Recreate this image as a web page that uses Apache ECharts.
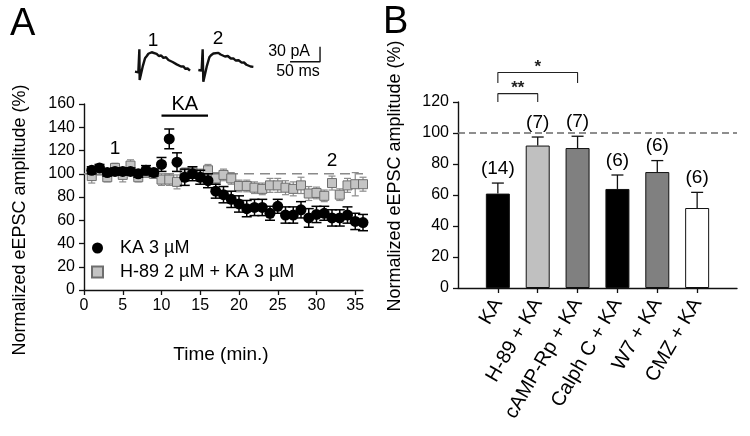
<!DOCTYPE html>
<html><head><meta charset="utf-8">
<script src="https://cdn.jsdelivr.net/npm/echarts@6/dist/echarts.min.js"></script>
<style>html,body{margin:0;padding:0;background:#fff}#c{width:750px;height:436px}</style>
</head><body><div id="c"></div>
<script>
// ---------- Panel A data ----------
const minutes = [1,2,3,4,5,6,7,8,9,10,11,12,13,14,15,16,17,18,19,20,21,22,23,24,25,26,27,28,29,30,31,32,33,34,35,36];
const kaMean = [103,105,101,102,102,102,100,103,101,108,130,110,97,100,97,94,85,82,78,74,70,71,71,66,72,64.5,64.5,69,62,65,66,62,62,64.5,59,58];
const kaSE   = [3,3,3,3,3,3,3,4,3,6,8.5,8,7,6,6,6,6,7,7,7,7,7,7,6,6,7,7,7,8,7,6,7,7,7,7,7];
const h89Mean = [98,103,97,105,99,107,97,101,100,95,95,93,100,101,99,103,96,99,96,89.5,89.5,88,87,90,90,88,87,90,83,83.5,81,92,82,90,91,91];
const h89SE   = [6,4,4,4,6,5,4,4,4,5,5,6,5,5,5,5,5,5,5,5,5,5,5,6,6,6,6,7,6,5,5,6,5,6,10,6];
const xTicksA = [0,5,10,15,20,25,30,35];
const kaApplication = [10,16];   // minutes of KA perfusion
// example traces (ms, pA)
const trace1 = [[8.3,26.7],[13.9,25.3],[15.6,71.3],[16.1,10],[18.3,11.3],[21.1,36.7],[25,53.3],[28,58],[30.6,62.5],[33,60],[36.1,65.5],[39,62],[44.4,62.3],[48,58],[52,59],[55.6,54.3],[60,55.5],[64,50],[66.7,50.7],[71,46],[74,47],[77.8,41.3],[81,42.5],[85,37],[88.9,37.3],[92,32.5],[96,33],[100,28.7]];
const trace2 = [[113.9,30],[119.4,28.7],[121.1,71.3],[122.2,6.7],[125,10],[127.8,36.7],[132.2,55.3],[135,59.5],[138.9,63],[142,60],[147.2,64.3],[151,61],[154,62.5],[158.3,57],[163,58],[168,53],[172.2,53.3],[176,49],[181,49.5],[186.1,44.7],[190,45],[194,40.5],[197.2,41],[201,37],[205.6,36.3]];
const scaleMs = 50, scalePa = 30;
// ---------- Panel B data ----------
const bCats = ['KA','H-89 + KA','cAMP-Rp + KA','Calph C + KA','W7 + KA','CMZ + KA'];
const bMean = [60.9,91.9,90.3,63.9,74.8,51.6];
const bSE   = [6.8,5.5,7.6,9.0,7.4,10.1];
const bN    = ['(14)','(7)','(7)','(6)','(6)','(6)'];

const barColors = ['#000000','#c0c0c0','#808080','#000000','#808080','#ffffff'];
const FONT = "'Liberation Sans', Arial, sans-serif";

function errRender(capW, color, upOnly, lw){
  return function(params, api){
    const x = api.value(0), lo = api.value(1), hi = api.value(2);
    const p1 = api.coord([x, lo]), p2 = api.coord([x, hi]);
    const st = {stroke: color, lineWidth: lw};
    const ch = [
      {type:'line', shape:{x1:p1[0],y1:p1[1],x2:p2[0],y2:p2[1]}, style:st},
      {type:'line', shape:{x1:p2[0]-capW/2,y1:p2[1],x2:p2[0]+capW/2,y2:p2[1]}, style:st}
    ];
    if(!upOnly) ch.push({type:'line', shape:{x1:p1[0]-capW/2,y1:p1[1],x2:p1[0]+capW/2,y2:p1[1]}, style:st});
    return {type:'group', children:ch};
  };
}

const kaPts = minutes.map((t,i)=>[t,kaMean[i]]);
const h89Pts = minutes.map((t,i)=>[t,h89Mean[i]]);
const kaErr = minutes.map((t,i)=>[t,kaMean[i]-kaSE[i],kaMean[i]+kaSE[i]]);
const h89Err = minutes.map((t,i)=>[t,h89Mean[i]-h89SE[i],h89Mean[i]+h89SE[i]]);
const bPos = bCats.map((c,i)=>i+1);
const bErr = bPos.map((x,i)=>[x,bMean[i],bMean[i]+bSE[i]]);

const axisLine = {show:true, lineStyle:{color:'#111', width:1.4}};
const tickStyle = {show:true, inside:false, length:5, lineStyle:{color:'#111', width:1.3}};
const lab = {color:'#000', fontSize:16, fontFamily:FONT};
const solid = {opacity:1};

const chart = echarts.init(document.getElementById('c'), null, {renderer:'canvas'});
chart.setOption({
  animation:false,
  backgroundColor:'#fff',
  grid:[
    {left:84, top:104, width:279, height:186},
    {left:458, top:102, width:279, height:186},
    {left:130, top:40, width:200, height:45}
  ],
  xAxis:[
    {gridIndex:0, type:'value', min:0, max:36, interval:5, axisLine, splitLine:{show:false},
     axisTick:Object.assign({customValues:xTicksA}, tickStyle),
     axisLabel:Object.assign({customValues:xTicksA, margin:8}, lab)},
    {gridIndex:1, type:'value', min:0, max:7, interval:1, axisLine, splitLine:{show:false},
     axisTick:Object.assign({customValues:bPos}, tickStyle),
     axisLabel:Object.assign({}, lab, {customValues:bPos, rotate:60, margin:12, fontSize:20, formatter:v=>bCats[v-1]||''})},
    {gridIndex:2, type:'value', min:0, max:333.3, show:false}
  ],
  yAxis:[
    {gridIndex:0, type:'value', min:0, max:160, interval:20, axisLine, splitLine:{show:false},
     axisTick:tickStyle, axisLabel:Object.assign({margin:9}, lab)},
    {gridIndex:1, type:'value', min:0, max:120, interval:20, axisLine, splitLine:{show:false},
     axisTick:tickStyle, axisLabel:Object.assign({margin:9}, lab)},
    {gridIndex:2, type:'value', min:0, max:90, show:false}
  ],
  legend:{
    left:86, top:234, orient:'vertical', itemWidth:11, itemHeight:11, itemGap:6,
    textStyle:{fontSize:18, fontFamily:FONT, color:'#000', padding:[0,0,0,12]},
    data:[{name:'KA 3 µM', icon:'circle'},{name:'H-89 2 µM + KA 3 µM', icon:'rect'}]
  },
  series:[
    {type:'line', xAxisIndex:0, yAxisIndex:0, data:[[0,100],[36,100]], symbol:'none', silent:true, z:1,
     lineStyle:{color:'#8a8a8a', width:1.3, type:[10,6]}},
    {type:'custom', xAxisIndex:0, yAxisIndex:0, data:h89Err, encode:{x:0,y:[1,2]}, renderItem:errRender(7,'#8c8c8c',false,1.2), z:2},
    {type:'scatter', name:'H-89 2 µM + KA 3 µM', xAxisIndex:0, yAxisIndex:0, data:h89Pts, symbol:'rect', symbolSize:9, z:3,
     itemStyle:{color:'#c4c4c4', borderColor:'#6e6e6e', borderWidth:1, opacity:1}},
    {type:'custom', xAxisIndex:0, yAxisIndex:0, data:kaErr, encode:{x:0,y:[1,2]}, renderItem:errRender(10,'#000',false,1.5), z:4},
    {type:'scatter', name:'KA 3 µM', xAxisIndex:0, yAxisIndex:0, data:kaPts, symbol:'circle', symbolSize:11, z:5,
     itemStyle:{color:'#000', opacity:1}},
    {type:'line', xAxisIndex:0, yAxisIndex:0, data:kaApplication.map(t=>[t,150]), symbol:'none', clip:false, z:6,
     lineStyle:{color:'#000', width:2.2}},
    {type:'scatter', xAxisIndex:0, yAxisIndex:0, data:[[(kaApplication[0]+kaApplication[1])/2,150]], symbolSize:0, clip:false, z:6, itemStyle:solid,
     label:{show:true, position:'top', distance:1, formatter:'KA', fontSize:20, fontFamily:FONT, color:'#000'}},
    {type:'scatter', xAxisIndex:0, yAxisIndex:0, data:[[4,113],[32,103]], symbolSize:0, z:6, clip:false, itemStyle:solid,
     label:{show:true, position:'top', distance:0, formatter:p=>p.dataIndex===0?'1':'2', fontSize:19, fontFamily:FONT, color:'#000'}},
    {type:'line', xAxisIndex:2, yAxisIndex:2, data:trace1, symbol:'none', clip:false, lineStyle:{color:'#111', width:2.4}},
    {type:'line', xAxisIndex:2, yAxisIndex:2, data:trace2, symbol:'none', clip:false, lineStyle:{color:'#111', width:2.4}},
    {type:'line', xAxisIndex:2, yAxisIndex:2, symbol:'none', clip:false, lineStyle:{color:'#111', width:1.4},
     data:[[316.7-scaleMs,46.6],[316.7,46.6],[316.7,46.6+scalePa]]},
    // Panel B
    {type:'line', xAxisIndex:1, yAxisIndex:1, data:[[0,100],[7,100]], symbol:'none', z:1,
     lineStyle:{color:'#6a6a6a', width:1.3, type:[7,4]}},
    {type:'bar', xAxisIndex:1, yAxisIndex:1, barWidth:24, z:2,
     data:bPos.map((x,i)=>({value:[x,bMean[i]], itemStyle:{color:barColors[i], borderColor:'#111', borderWidth:1}}))},
    {type:'custom', xAxisIndex:1, yAxisIndex:1, data:bErr, encode:{x:0,y:[1,2]}, renderItem:errRender(12,'#111',true,1.3), z:3},
    {type:'scatter', xAxisIndex:1, yAxisIndex:1, data:bErr.map(d=>[d[0],d[2]]), symbolSize:0, z:4, clip:false, itemStyle:solid,
     label:{show:true, position:'top', distance:5, formatter:p=>bN[p.dataIndex], fontSize:19, fontFamily:FONT, color:'#000'}},
    {type:'line', xAxisIndex:1, yAxisIndex:1, data:[[1,120],[1,125.4],[2,125.4],[2,120]], symbol:'none', clip:false,
     lineStyle:{color:'#222', width:1.1}},
    {type:'line', xAxisIndex:1, yAxisIndex:1, data:[[1,132.3],[1,139],[3,139],[3,132.3]], symbol:'none', clip:false,
     lineStyle:{color:'#222', width:1.1}},
    {type:'scatter', xAxisIndex:1, yAxisIndex:1, data:[[1.5,125.4],[2,139]], symbolSize:0, clip:false, itemStyle:solid,
     label:{show:true, position:'top', distance:-3, formatter:p=>p.dataIndex===0?'**':'*', fontSize:17, fontWeight:'bold', fontFamily:FONT, color:'#222'}}
  ],
  graphic:[
    {type:'text', left:10, top:6, style:{text:'A', font:"38px 'Liberation Sans', Arial", fill:'#000'}},
    {type:'text', left:383, top:4, style:{text:'B', font:"38px 'Liberation Sans', Arial", fill:'#000'}},
    {type:'text', x:20, y:220, rotation:Math.PI/2, style:{text:'Normalized eEPSC amplitude (%)', font:"18px 'Liberation Sans', Arial", fill:'#000', align:'center', verticalAlign:'middle'}},
    {type:'text', x:395, y:176, rotation:Math.PI/2, style:{text:'Normalized eEPSC amplitude (%)', font:"18px 'Liberation Sans', Arial", fill:'#000', align:'center', verticalAlign:'middle'}},
    {type:'text', x:221, y:355, style:{text:'Time (min.)', font:"19px 'Liberation Sans', Arial", fill:'#000', align:'center', verticalAlign:'middle'}},
    {type:'text', x:153, y:41, style:{text:'1', font:"19px 'Liberation Sans', Arial", fill:'#000', align:'center', verticalAlign:'middle'}},
    {type:'text', x:218, y:39, style:{text:'2', font:"19px 'Liberation Sans', Arial", fill:'#000', align:'center', verticalAlign:'middle'}},
    {type:'text', x:310, y:52, style:{text:'30 pA', font:"16px 'Liberation Sans', Arial", fill:'#000', align:'right', verticalAlign:'middle'}},
    {type:'text', x:298, y:72, style:{text:'50 ms', font:"16px 'Liberation Sans', Arial", fill:'#000', align:'center', verticalAlign:'middle'}}
  ]
});
</script></body></html>
